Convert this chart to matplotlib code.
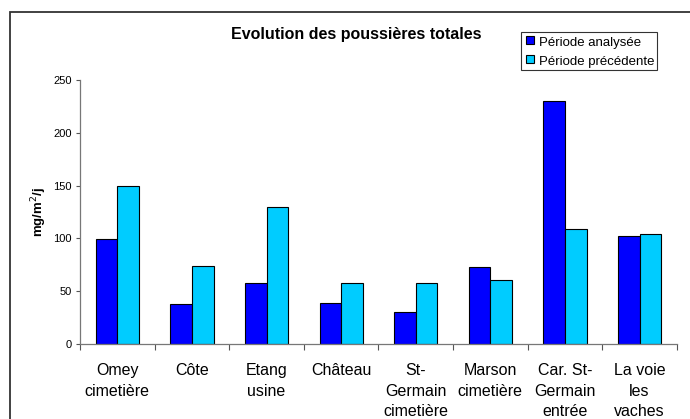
import numpy as np
import matplotlib
matplotlib.use("Agg")
from matplotlib import pyplot as plt
from matplotlib.patches import Rectangle
from matplotlib.lines import Line2D

plt.rcParams['font.family'] = ['Liberation Sans', 'DejaVu Sans']

# ===================== données =====================
sites = ['Omey\ncimetière', 'Côte', 'Etang\nusine', 'Château',
         'St-\nGermain\ncimetière', 'Marson\ncimetière',
         'Car. St-\nGermain\nentrée', 'La voie\nles\nvaches']
periode_analysee = [99, 38, 58, 39, 30, 73, 230, 102]
periode_precedente = [150, 74, 130, 58, 58, 61, 109, 104]
yticks = [0, 50, 100, 150, 200, 250]
series = ['Période analysée', 'Période précédente']
colors = ['#0000ff', '#00ccff']

# ===================== figure =====================
fig = plt.figure(figsize=(6.9, 4.19), dpi=100)
ax = fig.add_axes([0.116, 0.179, 0.865, 0.630])

x = np.arange(len(sites))
w = 0.29
ax.bar(x - w / 2, periode_analysee, w, color=colors[0], edgecolor='black',
       linewidth=0.8)
ax.bar(x + w / 2, periode_precedente, w, color=colors[1], edgecolor='black',
       linewidth=0.8)

ax.set_xlim(-0.5, len(sites) - 0.5)
ax.set_ylim(0, 250)
ax.set_yticks(yticks)
ax.tick_params(axis='y', labelsize=8, length=3, width=0.8, pad=3,
               color='#555555', labelcolor='black')
ax.set_xticks(x)
ax.set_xticklabels(sites, linespacing=1.45, va='top')
ax.tick_params(axis='x', length=0, labelsize=11.5, pad=14)
# ticks de séparation entre catégories
ax.set_xticks(np.arange(len(sites) + 1) - 0.5, minor=True)
ax.tick_params(axis='x', which='minor', length=4, width=0.8, color='#555555')

for s in ['top', 'right']:
    ax.spines[s].set_visible(False)
for s in ['left', 'bottom']:
    ax.spines[s].set_color('#777777')
    ax.spines[s].set_linewidth(0.9)

ax.set_ylabel('mg/m$^2$/j', fontsize=9.5, fontweight='bold', labelpad=3)

fig.text(0.517, 0.9165, 'Evolution des poussières totales', ha='center',
         va='center', fontsize=11.5, fontweight='bold')

handles = [Line2D([], [], marker='s', linestyle='none', markersize=5.8,
                  markerfacecolor=c, markeredgecolor='black',
                  markeredgewidth=0.8) for c in colors]
leg = fig.legend(handles, series, loc='upper left',
                 bbox_to_anchor=(0.755, 0.9236), fontsize=9.5, numpoints=1,
                 frameon=True, fancybox=False, edgecolor='black',
                 handlelength=0.97, handleheight=1.26, handletextpad=0.2,
                 borderpad=0.2, labelspacing=0.32, borderaxespad=0)
leg.get_frame().set_linewidth(0.8)

# cadre extérieur
fig.patches.append(Rectangle((10 / 690, -0.01), 1.0, 1 - 12 / 419 + 0.01,
                             transform=fig.transFigure, fill=False,
                             edgecolor='#333333', linewidth=1.3))

fig.savefig('out.png', dpi=100)
